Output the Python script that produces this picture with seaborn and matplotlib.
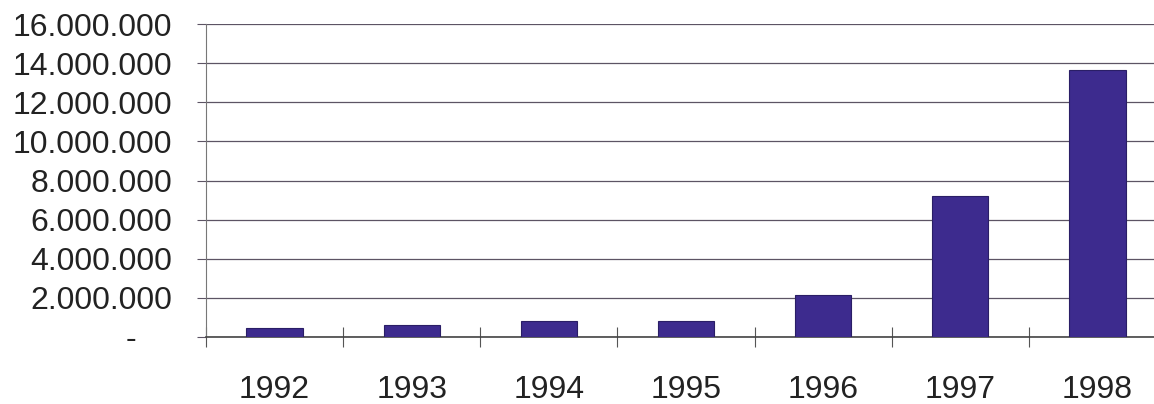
import numpy as np
import pandas as pd
import matplotlib
matplotlib.use("Agg")
import matplotlib.pyplot as plt
from matplotlib.ticker import FuncFormatter, FixedLocator
import seaborn as sns

# data
years = ["1992", "1993", "1994", "1995", "1996", "1997", "1998"]
values = [480000, 600000, 820000, 800000, 2150000, 7200000, 13650000]
y_ticks = [0, 2000000, 4000000, 6000000, 8000000, 10000000, 12000000, 14000000, 16000000]

sns.set_theme(style="white")
plt.rcParams["font.family"] = ["Liberation Sans", "DejaVu Sans"]

df = pd.DataFrame({"year": years, "value": values})

fig = plt.figure(figsize=(11.54, 4.04), dpi=100)
ax = fig.add_axes([206 / 1154, 67 / 404, 960 / 1154, 313 / 404])

sns.barplot(data=df, x="year", y="value", color="#3d2b8e", width=0.41,
            saturation=1, edgecolor="#2a1e66", linewidth=0.8, ax=ax, zorder=3)

ax.set_xlim(-0.5, len(years) - 0.5)
ax.set_ylim(0, 16000000)
ax.set_xlabel("")
ax.set_ylabel("")

# y axis: Excel accounting style, zero shown as a dash
def fmt(v, pos):
    if v == 0:
        return "-    "
    return f"{int(v):,}".replace(",", ".")

ax.yaxis.set_major_locator(FixedLocator(y_ticks))
ax.yaxis.set_major_formatter(FuncFormatter(fmt))
ax.grid(axis="y", color="#5c5464", linewidth=0.9, zorder=0)
ax.grid(axis="x", visible=False)

ax.tick_params(axis="y", which="major", left=True, length=6.5, width=0.8,
               color="#5c5464", pad=18, labelsize=23, labelcolor="#222222")

# category boundaries as crossing ticks
ax.xaxis.set_minor_locator(FixedLocator(np.arange(-0.5, len(years), 1.0)))
ax.tick_params(axis="x", which="minor", bottom=True, direction="inout",
               length=14, width=0.8, color="#555555")
ax.tick_params(axis="x", which="major", bottom=False, length=0, pad=27,
               labelsize=23, labelcolor="#222222")

for side in ["top", "right"]:
    ax.spines[side].set_visible(False)
ax.spines["left"].set_color("#777777")
ax.spines["left"].set_linewidth(0.8)
ax.spines["bottom"].set_color("#444444")
ax.spines["bottom"].set_linewidth(1.2)

fig.savefig("out.png", dpi=100)
